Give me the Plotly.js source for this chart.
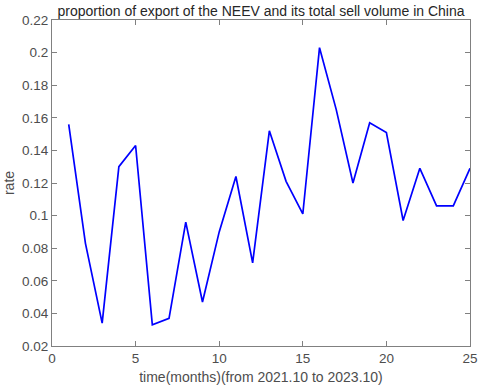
<!DOCTYPE html>
<html>
<head>
<meta charset="utf-8">
<script src="https://cdn.plot.ly/plotly-3.0.1.min.js"></script>
<style>
  html, body { margin: 0; padding: 0; background: #fff; }
  #plot { width: 480px; height: 388px; }
</style>
</head>
<body>
<div id="plot"></div>
<script>
// months since 2021.10
var months = [1, 2, 3, 4, 5, 6, 7, 8, 9, 10, 11, 12, 13, 14, 15, 16, 17, 18, 19, 20, 21, 22, 23, 24, 25];
// export share of NEEV sales
var rate = [0.156, 0.083, 0.034, 0.130, 0.143, 0.033, 0.037, 0.096, 0.047, 0.090,
            0.124, 0.071, 0.152, 0.121, 0.101, 0.203, 0.165, 0.120, 0.157, 0.151,
            0.097, 0.129, 0.106, 0.106, 0.129];

var xTicks = [0, 5, 10, 15, 20, 25];
var yTicks = [0.02, 0.04, 0.06, 0.08, 0.1, 0.12, 0.14, 0.16, 0.18, 0.2, 0.22];

var trace1 = {
  x: months,
  y: rate,
  type: 'scatter',
  mode: 'lines',
  line: { color: 'rgb(0,0,255)', width: 1.7 },
  hoverinfo: 'none'
};

var axisStyle = {
  showgrid: false,
  zeroline: false,
  showline: true,
  mirror: 'ticks',
  linecolor: '#808080',
  linewidth: 1,
  ticks: 'inside',
  ticklen: 5,
  tickcolor: '#808080',
  tickfont: { family: 'Liberation Sans, Arial, sans-serif', size: 13.5, color: '#4d4d4d' }
};

var layout = {
  width: 480,
  height: 388,
  margin: { l: 52, r: 10, t: 20, b: 42 },
  paper_bgcolor: '#fff',
  plot_bgcolor: '#fff',
  showlegend: false,
  title: {
    text: 'proportion of export of the NEEV and its total sell volume in China',
    font: { family: 'Liberation Sans, Arial, sans-serif', size: 14, color: '#262626' },
    x: 0.5, xref: 'paper', xanchor: 'center',
    y: 0.972, yref: 'container', yanchor: 'middle'
  },
  xaxis: Object.assign({}, axisStyle, {
    range: [0, 25],
    tickvals: xTicks,
    ticktext: xTicks.map(String),
    title: { text: 'time(months)(from 2021.10 to 2023.10)', standoff: 6,
             font: { family: 'Liberation Sans, Arial, sans-serif', size: 14, color: '#4d4d4d' } }
  }),
  yaxis: Object.assign({}, axisStyle, {
    range: [0.02, 0.22],
    tickvals: yTicks,
    ticktext: yTicks.map(String),
    title: { text: 'rate', standoff: 4,
             font: { family: 'Liberation Sans, Arial, sans-serif', size: 14, color: '#4d4d4d' } }
  })
};

Plotly.newPlot('plot', [trace1], layout, { displayModeBar: false, staticPlot: true });
</script>
</body>
</html>
